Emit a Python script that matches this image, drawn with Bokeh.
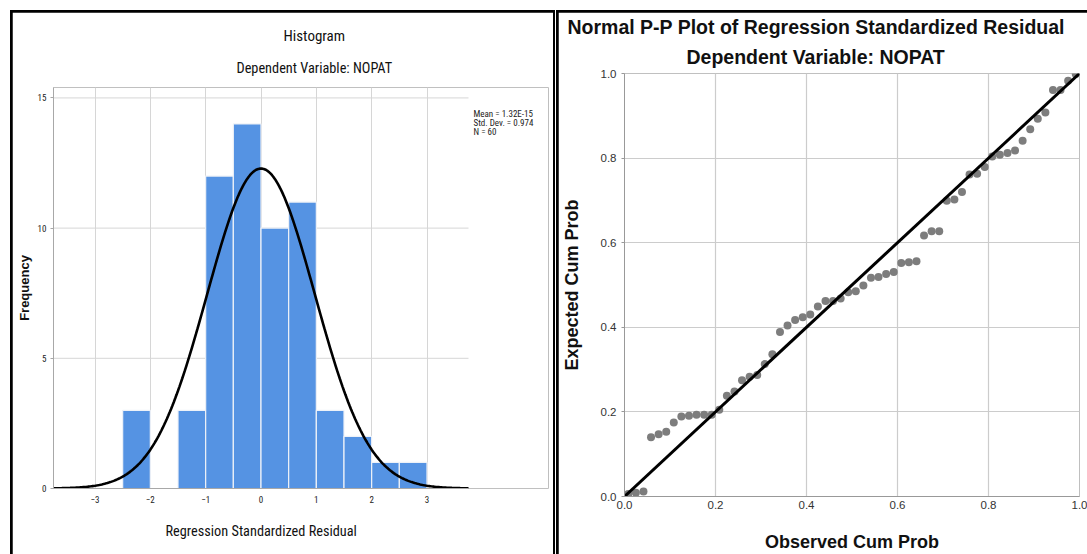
import math
from bokeh.plotting import figure
from bokeh.layouts import row, column
from bokeh.models import Range1d, Label, Title, PrintfTickFormatter
from bokeh.embed import file_html
from bokeh.resources import INLINE

# ---------------- data ----------------
bin_edges = [-2.5, -2.0, -1.5, -1.0, -0.5, 0.0, 0.5, 1.0, 1.5, 2.0, 2.5, 3.0]
bin_counts = [3, 0, 3, 12, 14, 10, 11, 3, 2, 1, 1]
hist_mean = 1.32e-15
hist_sd = 0.974
hist_n = 60
hist_x_ticks = [-3, -2, -1, 0, 1, 2, 3]
hist_y_ticks = [0, 5, 10, 15]
hist_stats = ["Mean = 1.32E-15", "Std. Dev. = 0.974", "N = 60"]

pp_observed = [0.0083, 0.025, 0.0417, 0.0583, 0.075, 0.0917, 0.1083, 0.125, 0.1417, 0.1583,
               0.175, 0.1917, 0.2083, 0.225, 0.2417, 0.2583, 0.275, 0.2917, 0.3083, 0.325,
               0.3417, 0.3583, 0.375, 0.3917, 0.4083, 0.425, 0.4417, 0.4583, 0.475, 0.4917,
               0.5083, 0.525, 0.5417, 0.5583, 0.575, 0.5917, 0.6083, 0.625, 0.6417, 0.6583,
               0.675, 0.6917, 0.7083, 0.725, 0.7417, 0.7583, 0.775, 0.7917, 0.8083, 0.825,
               0.8417, 0.8583, 0.875, 0.8917, 0.9083, 0.925, 0.9417, 0.9583, 0.975, 0.9917]
pp_expected = [0.006, 0.009, 0.012, 0.140, 0.147, 0.153, 0.175, 0.189, 0.191, 0.193,
               0.193, 0.193, 0.205, 0.238, 0.248, 0.275, 0.283, 0.287, 0.313, 0.336,
               0.389, 0.404, 0.417, 0.424, 0.430, 0.449, 0.462, 0.462, 0.468, 0.483,
               0.485, 0.499, 0.517, 0.519, 0.526, 0.531, 0.552, 0.554, 0.556, 0.617,
               0.627, 0.627, 0.699, 0.702, 0.720, 0.761, 0.763, 0.779, 0.804, 0.808,
               0.812, 0.818, 0.841, 0.868, 0.893, 0.908, 0.961, 0.961, 0.983, 0.999]
pp_ref_x = [0.0, 1.0]
pp_ref_y = [0.0, 1.0]
pp_ticks = [0.0, 0.2, 0.4, 0.6, 0.8, 1.0]

NARROW = "Roboto Condensed, DejaVu Sans Condensed, Liberation Sans"
SANS = "Liberation Sans"

# ---------------- layout constants (page pixels) ----------------
L_CX, L_CY = 12, 12            # left canvas origin on page
L_W, L_H = 541, 542
L_ML, L_MR, L_MT, L_MB = 41, 5, 75, 66
R_CX, R_CY = 558, 12           # right canvas origin on page
R_W, R_H = 529, 542
R_ML, R_MR, R_MT, R_MB = 66, 8, 61, 57

LX0 = L_CX + L_ML
LFW = L_W - L_ML - L_MR
LY0 = L_CY + L_MT
LFH = L_H - L_MT - L_MB
VIS_W = 415                    # visible histogram width (px)
HX = (-3.75, 3.75)
HX_END = HX[0] + (HX[1] - HX[0]) * LFW / VIS_W
HY = (0.0, 15.4)
RX0 = R_CX + R_ML


def lx(px):
    return HX[0] + (px - LX0) / VIS_W * (HX[1] - HX[0])


def ly(py):
    return HY[0] + (LY0 + LFH - py) / LFH * (HY[1] - HY[0])


# ---------------- histogram ----------------
p1 = figure(width=L_W, height=L_H, x_range=Range1d(HX[0], HX_END), y_range=Range1d(*HY),
            output_backend="svg", toolbar_location=None,
            min_border_left=L_ML, min_border_right=L_MR,
            min_border_top=L_MT, min_border_bottom=L_MB, margin=(2, 2, 0, 2))
p1.outline_line_color = None
p1.border_fill_color = "white"

# horizontal grid lines, limited to the histogram area
p1.ygrid.visible = False
p1.segment(x0=[HX[0]] * 3, x1=[HX[1]] * 3, y0=hist_y_ticks[1:], y1=hist_y_ticks[1:],
           line_color="#d6d6d6", line_width=1, level="underlay")

p1.quad(left=bin_edges[:-1], right=bin_edges[1:], top=bin_counts, bottom=0,
        fill_color="#5593e3", line_color="#eef2f8", line_width=1.2)

# fitted normal curve from the stated mean / sd
bw = bin_edges[1] - bin_edges[0]
cx = [HX[0] + i * (HX[1] - HX[0]) / 300 for i in range(301)]
cy = [hist_n * bw / (hist_sd * math.sqrt(2 * math.pi)) *
      math.exp(-0.5 * ((v - hist_mean) / hist_sd) ** 2) for v in cx]
p1.line(cx, cy, line_color="black", line_width=2.6)

p1.xaxis.ticker = hist_x_ticks
p1.yaxis.ticker = hist_y_ticks
p1.xaxis.bounds = HX
p1.xgrid.ticker = hist_x_ticks
p1.xgrid.grid_line_color = "#d6d6d6"
for ax in (p1.xaxis, p1.yaxis):
    ax.axis_line_color = "#a8a8a8"
    ax.major_tick_line_color = "#a8a8a8"
    ax.minor_tick_line_color = None
    ax.major_label_text_font = NARROW
    ax.major_label_text_font_size = "9px"
    ax.major_label_text_color = "#222222"
p1.xaxis.major_tick_out = 0
p1.xaxis.major_tick_in = 0
p1.xaxis.major_label_standoff = 7
p1.yaxis.major_tick_out = 3
p1.yaxis.major_tick_in = 0
p1.yaxis.major_label_standoff = 4

p1.yaxis.axis_label = "Frequency"
p1.yaxis.axis_label_text_font = SANS
p1.yaxis.axis_label_text_font_style = "bold"
p1.yaxis.axis_label_text_font_size = "13px"
p1.yaxis.axis_label_text_color = "#111111"
p1.yaxis.axis_label_standoff = 3

# outer title (p.title) and inner subtitle
p1.title.text = "Histogram"
p1.title.align = "left"
p1.title.offset = 283 - LX0
p1.title.text_font = NARROW
p1.title.text_font_style = "normal"
p1.title.text_font_size = "15px"
p1.title.text_color = "#111111"
p1.title.standoff = 1
p1.add_layout(Title(text="Dependent Variable: NOPAT", align="left", offset=236 - LX0,
                    text_font=NARROW, text_font_style="normal", text_font_size="14.3px",
                    text_color="#111111", standoff=24), "above")
p1.add_layout(Title(text="Regression Standardized Residual", align="left",
                    offset=165 - LX0, text_font=NARROW, text_font_style="normal",
                    text_font_size="14.3px", text_color="#111111", standoff=31), "below")

for txt, py in zip(hist_stats, (113, 122, 131)):
    p1.add_layout(Label(x=lx(473), y=ly(py), text=txt, text_align="left",
                        text_baseline="middle", text_font=NARROW,
                        text_font_size="9px", text_color="#222222"))

# ---------------- P-P plot ----------------
p2 = figure(width=R_W, height=R_H, x_range=Range1d(0, 1), y_range=Range1d(0, 1),
            output_backend="svg", toolbar_location=None,
            min_border_left=R_ML, min_border_right=R_MR,
            min_border_top=R_MT, min_border_bottom=R_MB, margin=(2, 0, 0, 2))
p2.outline_line_color = None
p2.border_fill_color = "white"

p2.xaxis.ticker = pp_ticks
p2.yaxis.ticker = pp_ticks
p2.xgrid.ticker = pp_ticks
p2.ygrid.ticker = pp_ticks
for g in (p2.xgrid, p2.ygrid):
    g.grid_line_color = "#cccccc"
    g.grid_line_width = 1.2
for ax in (p2.xaxis, p2.yaxis):
    ax.formatter = PrintfTickFormatter(format="%.1f")
    ax.axis_line_color = "#999999"
    ax.major_tick_line_color = "#999999"
    ax.minor_tick_line_color = None
    ax.major_label_text_font = SANS
    ax.major_label_text_font_size = "11.5px"
    ax.major_label_text_color = "#333333"
    ax.axis_label_text_font = SANS
    ax.axis_label_text_font_style = "bold"
    ax.axis_label_text_font_size = "18px"
    ax.axis_label_text_color = "#111111"
p2.xaxis.major_tick_out = 0
p2.xaxis.major_tick_in = 0
p2.xaxis.major_label_standoff = 4
p2.yaxis.major_tick_out = 3
p2.yaxis.major_tick_in = 0
p2.yaxis.major_label_standoff = 5
p2.xaxis.axis_label = "Observed Cum Prob"
p2.xaxis.axis_label_standoff = 20
p2.yaxis.axis_label = "Expected Cum Prob"
p2.yaxis.axis_label_standoff = 16

p2.scatter(pp_observed, pp_expected, size=8, fill_color="#7d7d7d", line_color=None)
p2.line(pp_ref_x, pp_ref_y, line_color="black", line_width=3)

p2.title.text = "Normal P-P Plot of Regression Standardized Residual"
p2.title.align = "left"
p2.title.offset = 567 - RX0
p2.title.text_font = SANS
p2.title.text_font_style = "bold"
p2.title.text_font_size = "19.5px"
p2.title.text_color = "#111111"
p2.title.standoff = 0
p2.add_layout(Title(text="Dependent Variable: NOPAT", align="left",
                    offset=686 - RX0, text_font=SANS, text_font_style="bold",
                    text_font_size="19.5px", text_color="#111111", standoff=12), "above")

c1 = column(p1, margin=(10, 0, 0, 10), styles={"background-color": "black"})
c2 = column(p2, margin=(10, 0, 0, 1), styles={"background-color": "black"})
layout = row(c1, c2)
open("out.html", "w").write(file_html(layout, INLINE))
